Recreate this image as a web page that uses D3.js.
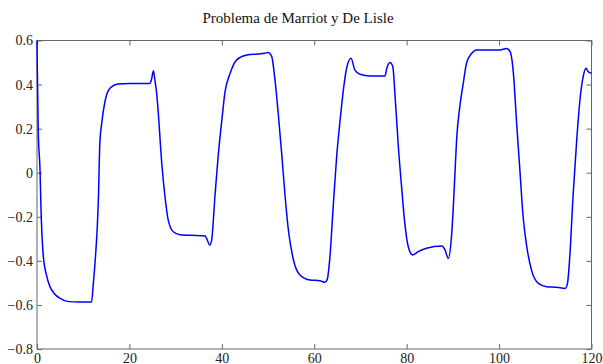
<!DOCTYPE html>
<html><head><meta charset="utf-8">
<script src="https://cdn.jsdelivr.net/npm/d3@7"></script>
<style>body{margin:0;background:#fff}svg{display:block}</style>
</head><body>
<script>
const title = "Problema de Marriot y De Lisle";
const xTicks = [0, 20, 40, 60, 80, 100, 120];
const yTicks = [-0.8, -0.6, -0.4, -0.2, 0, 0.2, 0.4, 0.6];
const time = [0, 0.07, 0.28, 0.65, 0.87, 1.37, 2.0, 2.8, 3.8, 5, 6.8, 9, 11.8, 12.2, 12.55, 13.3, 13.6, 14, 14.7, 15.8, 17.6, 20, 24.4, 24.8, 25.2, 25.5, 25.9, 26.25, 27, 27.7, 28.4, 29.5, 30.9, 33.1, 36.4, 36.7, 37.4, 37.8, 38.5, 39.2, 40, 40.7, 41.8, 43.2, 45.4, 47.9, 49.3, 50, 50.8, 51.5, 52.2, 52.95, 53.7, 54.4, 55.5, 56.9, 59.1, 61.2, 62.3, 62.8, 63.4, 64.1, 64.85, 65.6, 66.3, 67, 67.95, 68.8, 69.9, 72.1, 75.3, 75.7, 76.4, 77, 77.5, 78.2, 78.9, 79.6, 80.35, 81.3, 82.5, 84.3, 87.6, 88.3, 89, 89.7, 90.1, 90.45, 90.8, 91.5, 92.25, 92.95, 94.1, 95.1, 100.2, 101.6, 102.4, 103.1, 103.8, 104.5, 105.2, 106, 107, 108.5, 110.3, 112.5, 114.3, 114.8, 115.3, 116, 116.8, 117.5, 118.2, 118.8, 119.3, 120];
const value = [0.6, 0.47, 0.18, 0.016, -0.166, -0.381, -0.46, -0.517, -0.55, -0.57, -0.585, -0.587, -0.587, -0.5, -0.411, -0.109, 0.135, 0.224, 0.322, 0.383, 0.403, 0.405, 0.405, 0.425, 0.463, 0.421, 0.36, 0.27, 0.043, -0.109, -0.215, -0.268, -0.281, -0.284, -0.287, -0.298, -0.328, -0.305, -0.109, 0.073, 0.239, 0.368, 0.451, 0.512, 0.534, 0.539, 0.542, 0.546, 0.527, 0.421, 0.27, 0.088, -0.109, -0.26, -0.396, -0.464, -0.487, -0.49, -0.497, -0.485, -0.381, -0.154, 0.073, 0.239, 0.375, 0.474, 0.519, 0.466, 0.447, 0.439, 0.439, 0.474, 0.5, 0.481, 0.345, 0.118, -0.063, -0.23, -0.336, -0.373, -0.358, -0.343, -0.333, -0.35, -0.389, -0.29, -0.154, -0.003, 0.148, 0.3, 0.406, 0.497, 0.542, 0.557, 0.557, 0.564, 0.549, 0.451, 0.224, 0.012, -0.2, -0.336, -0.441, -0.502, -0.517, -0.52, -0.525, -0.502, -0.381, -0.109, 0.148, 0.33, 0.436, 0.474, 0.458, 0.451];

const W = 603, H = 364;
const m = {left: 37, right: 11.5, top: 40.5, bottom: 15};
const svg = d3.select("body").append("svg").attr("width", W).attr("height", H);
const x = d3.scaleLinear().domain([0, 120]).range([m.left, W - m.right]);
const y = d3.scaleLinear().domain([-0.8, 0.6]).range([H - m.bottom, m.top]);
const axisColor = "#666";
const font = "'Liberation Serif', 'Times New Roman', serif";

svg.append("rect").attr("x", x(0)).attr("y", y(0.6)).attr("width", x(120) - x(0)).attr("height", y(-0.8) - y(0.6))
  .attr("fill", "none").attr("stroke", axisColor).attr("stroke-width", 1);

const tl = 5;
const bottomAxis = d3.axisBottom(x).tickValues(xTicks).tickSize(-tl).tickPadding(4).tickFormat(d3.format("d"));
const topAxis = d3.axisTop(x).tickValues(xTicks).tickSize(-tl).tickFormat("");
const leftAxis = d3.axisLeft(y).tickValues(yTicks).tickSize(-tl).tickPadding(4).tickFormat(d => d === 0 ? "0" : d3.format(".1f")(d));
const rightAxis = d3.axisRight(y).tickValues(yTicks).tickSize(-tl).tickFormat("");

function style(g) {
  g.attr("font-family", null).attr("font-size", null);
  g.select(".domain").remove();
  g.selectAll(".tick line").attr("stroke", axisColor);
  g.selectAll("text").attr("fill", "#222").style("font-family", font).style("font-size", "14px");
}
svg.append("g").attr("transform", `translate(0,${y(-0.8)})`).call(bottomAxis).call(style);
svg.append("g").attr("transform", `translate(0,${y(0.6)})`).call(topAxis).call(style);
svg.append("g").attr("transform", `translate(${x(0)},0)`).call(leftAxis).call(style);
svg.append("g").attr("transform", `translate(${x(120)},0)`).call(rightAxis).call(style);

const data = time.map((t, i) => [t, value[i]]);
const line = d3.line().x(d => x(d[0])).y(d => y(d[1])).curve(d3.curveMonotoneX);
svg.append("path").datum(data).attr("d", line).attr("fill", "none").attr("stroke", "#0000ff").attr("stroke-width", 1.5);

svg.append("text").attr("x", 298).attr("y", 23).attr("text-anchor", "middle")
  .style("font-family", font).style("font-size", "15px").attr("fill", "#111").text(title);
</script>
</body></html>
